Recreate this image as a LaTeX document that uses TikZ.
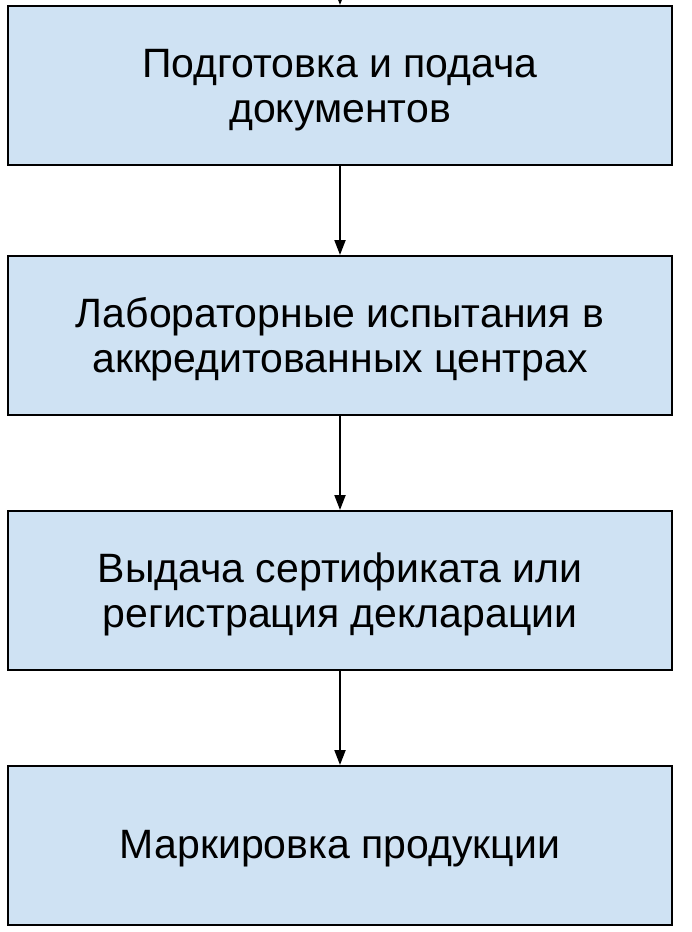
\documentclass[tikz,border=0pt]{standalone}
\usepackage{fontspec}
\setmainfont{Liberation Sans}
\usepackage{tikz}
\usetikzlibrary{positioning, arrows.meta}
\definecolor{boxblue}{HTML}{CFE2F3}

\begin{document}
\begin{tikzpicture}[
    stage/.style={draw, line width=2pt, fill=boxblue, minimum width=664pt, minimum height=159pt,
      align=center, inner sep=0pt, font=\fontsize{41}{45}\selectfont},
    twoline/.style={text height=74.4pt, text depth=0pt},
    oneline/.style={text height=29.4pt, text depth=3pt},
    flow/.style={line width=2pt, -{Triangle[length=15pt,width=11pt]}}
  ]
  \useasboundingbox (0,0) rectangle (692pt,-932pt);

  % Define nodes
  \node[stage, twoline] (docs) at (340pt,-85.5pt) {Подготовка и подача\\документов};
  \node[stage, twoline, below=89pt of docs] (lab) {Лабораторные испытания в\\аккредитованных центрах};
  \node[stage, twoline, below=94pt of lab] (cert) {Выдача сертификата или\\регистрация декларации};
  \node[stage, oneline, below=94pt of cert] (mark) {Маркировка продукции};
  \coordinate (start) at (340pt,30pt);

  % Edges
  \draw[flow] (start) -- (docs);
  \draw[flow] (docs) -- (lab);
  \draw[flow] (lab) -- (cert);
  \draw[flow] (cert) -- (mark);

\end{tikzpicture}
\end{document}
